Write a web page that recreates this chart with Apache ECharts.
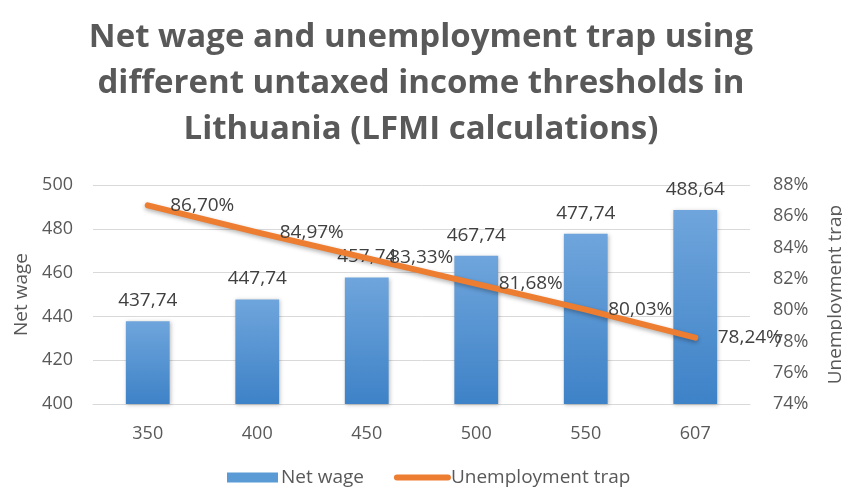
<!DOCTYPE html>
<html lang="en">
<head>
<meta charset="UTF-8">
<title>Net wage and unemployment trap</title>
<style>
  html, body { margin: 0; padding: 0; background: #fff; }
  #chart { width: 842px; height: 493px; }
</style>
</head>
<body>
<div id="chart"></div>
<script src="https://cdn.jsdelivr.net/npm/echarts@6/dist/echarts.min.js"></script>
<script>
// data
var thresholds = ['350', '400', '450', '500', '550', '607'];
var netWage = [437.74, 447.74, 457.74, 467.74, 477.74, 488.64];
var unemploymentTrap = [0.8670, 0.8497, 0.8333, 0.8168, 0.8003, 0.7824];

var textColor = '#595959';
var labelColor = '#404040';
var orange = '#ED7D31';
var fontFam = '"Open Sans", "DejaVu Sans", sans-serif';

function comma(v, d) {
  return v.toFixed(d).replace('.', ',');
}

var chart = echarts.init(document.getElementById('chart'));

var option = {
  animation: false,
  textStyle: { fontFamily: fontFam },
  title: {
    text: 'Net wage and unemployment trap using\ndifferent untaxed income thresholds in\nLithuania (LFMI calculations)',
    left: 'center',
    top: 10,
    textStyle: {
      fontFamily: fontFam,
      fontSize: 33,
      fontWeight: 'bold',
      color: textColor,
      lineHeight: 46
    }
  },
  legend: {
    bottom: 1,
    left: 222,
    itemGap: 30,
    textStyle: { fontSize: 19, color: textColor, fontFamily: fontFam, padding: [0, 0, 0, -2] },
    data: [
      { name: 'Net wage', icon: 'rect', itemStyle: { color: '#5B9BD5' } },
      {
        name: 'Unemployment trap',
        itemStyle: { color: 'rgba(0,0,0,0)' },
        lineStyle: { color: orange, width: 6, cap: 'round' }
      }
    ],
    itemWidth: 51,
    itemHeight: 10
  },
  grid: { left: 93, right: 92, top: 185, bottom: 89, outerBoundsMode: 'none' },
  xAxis: {
    type: 'category',
    data: thresholds,
    axisLine: { lineStyle: { color: '#D9D9D9' } },
    axisTick: { show: false },
    axisLabel: { color: textColor, fontSize: 18, margin: 21 }
  },
  yAxis: [
    {
      type: 'value',
      name: 'Net wage',
      nameLocation: 'middle',
      nameGap: 62,
      nameRotate: 90,
      nameTextStyle: { color: textColor, fontSize: 19 },
      min: 400, max: 500, interval: 20,
      axisLine: { show: false },
      axisTick: { show: false },
      axisLabel: { color: textColor, fontSize: 18, margin: 20 },
      splitLine: { lineStyle: { color: '#D9D9D9' } }
    },
    {
      type: 'value',
      name: 'Unemployment trap',
      nameLocation: 'middle',
      nameGap: 76,
      nameRotate: 90,
      nameTextStyle: { color: textColor, fontSize: 19 },
      min: 0.74, max: 0.88, interval: 0.02,
      axisLine: { show: false },
      axisTick: { show: false },
      axisLabel: {
        color: textColor, fontSize: 18, margin: 23,
        formatter: function (v) { return Math.round(v * 100) + '%'; }
      },
      splitLine: { show: false }
    }
  ],
  series: [
    {
      name: 'Net wage',
      type: 'bar',
      data: netWage,
      barWidth: '40%',
      itemStyle: {
        color: new echarts.graphic.LinearGradient(0, 0, 0, 1, [
          { offset: 0, color: '#6FA5DC' },
          { offset: 1, color: '#3E82C7' }
        ]),
        shadowColor: 'rgba(0,0,0,0.25)',
        shadowBlur: 4,
        shadowOffsetX: 1,
        shadowOffsetY: 1
      },
      label: {
        show: true,
        position: 'top',
        distance: 11,
        color: labelColor,
        fontSize: 19,
        formatter: function (p) { return comma(p.value, 2); }
      }
    },
    {
      name: 'Unemployment trap',
      type: 'line',
      yAxisIndex: 1,
      data: unemploymentTrap,
      symbol: 'circle',
      symbolSize: 1,
      showSymbol: true,
      lineStyle: {
        color: orange,
        width: 6,
        cap: 'round',
        shadowColor: 'rgba(0,0,0,0.3)',
        shadowBlur: 4,
        shadowOffsetY: 2
      },
      itemStyle: { color: 'rgba(0,0,0,0)' },
      label: {
        show: true,
        position: 'right',
        distance: 22,
        offset: [0, 3],
        color: labelColor,
        fontSize: 19,
        formatter: function (p) { return comma(p.value * 100, 2) + '%'; }
      },
      labelLayout: { hideOverlap: false }
    }
  ]
};

chart.setOption(option);
</script>
</body>
</html>
